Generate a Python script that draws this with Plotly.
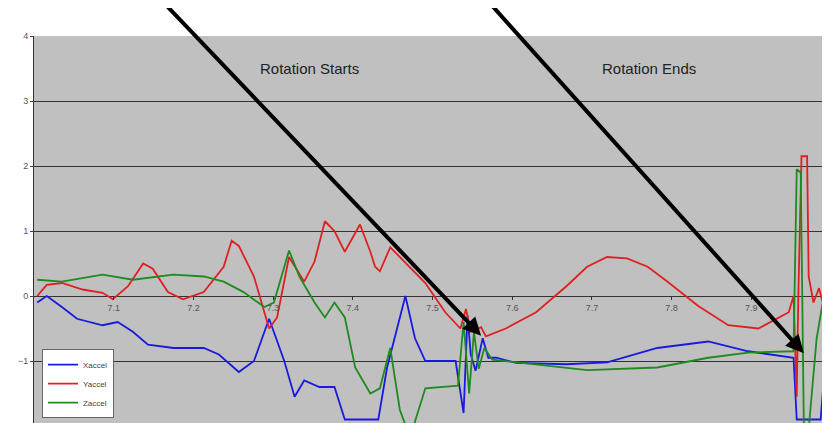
import plotly.graph_objects as go

x_t = [7.004, 7.016, 7.035, 7.054, 7.086, 7.105, 7.124, 7.143, 7.175, 7.213, 7.232, 7.257, 7.276,
       7.295, 7.314, 7.327, 7.339, 7.358, 7.377, 7.390, 7.432, 7.443, 7.466, 7.478, 7.491, 7.516,
       7.529, 7.539, 7.544, 7.548, 7.554, 7.563, 7.570, 7.580, 7.605, 7.668, 7.719, 7.782, 7.846,
       7.896, 7.953, 7.957, 7.987, 7.995, 8.0]
x_v = [-0.1, 0.0, -0.17, -0.35, -0.45, -0.4, -0.55, -0.75, -0.8, -0.8, -0.9, -1.17, -1.0,
       -0.35, -1.0, -1.55, -1.3, -1.4, -1.4, -1.9, -1.9, -1.1, 0.0, -0.65, -1.0, -1.0,
       -1.0, -1.8, -0.3, -0.9, -1.15, -0.65, -0.95, -0.95, -1.03, -1.05, -1.02, -0.8, -0.7,
       -0.85, -0.95, -1.9, -1.9, -0.65, -0.1]

y_t = [7.004, 7.016, 7.035, 7.061, 7.086, 7.099, 7.118, 7.137, 7.149, 7.168, 7.187, 7.213, 7.238,
       7.248, 7.257, 7.276, 7.295, 7.305, 7.320, 7.339, 7.352, 7.365, 7.377, 7.390, 7.409, 7.422,
       7.428, 7.434, 7.447, 7.459, 7.491, 7.516, 7.535, 7.542, 7.548, 7.561, 7.567, 7.592, 7.630,
       7.668, 7.694, 7.719, 7.744, 7.770, 7.795, 7.833, 7.871, 7.909, 7.947, 7.953, 7.957, 7.959,
       7.963, 7.970, 7.972, 7.978, 7.985, 7.991, 8.0]
y_v = [0.0, 0.17, 0.2, 0.1, 0.05, -0.05, 0.15, 0.5, 0.42, 0.06, -0.05, 0.06, 0.45,
       0.85, 0.77, 0.3, -0.5, -0.33, 0.6, 0.22, 0.53, 1.15, 1.0, 0.68, 1.1, 0.68,
       0.45, 0.38, 0.75, 0.6, 0.2, -0.25, -0.5, -0.2, -0.55, -0.48, -0.62, -0.5, -0.25,
       0.15, 0.45, 0.6, 0.58, 0.45, 0.22, -0.15, -0.45, -0.5, -0.25, 0.0, -1.55, 0.0,
       2.15, 2.15, 0.3, -0.1, 0.12, -0.16, 0.0]

z_t = [7.004, 7.035, 7.086, 7.124, 7.175, 7.213, 7.238, 7.263, 7.289, 7.301, 7.320, 7.333, 7.352,
       7.365, 7.377, 7.390, 7.403, 7.422, 7.434, 7.447, 7.459, 7.468, 7.475, 7.491, 7.532, 7.539,
       7.546, 7.552, 7.558, 7.565, 7.575, 7.590, 7.630, 7.694, 7.782, 7.846, 7.896, 7.953, 7.957,
       7.962, 7.966, 7.972, 7.982, 7.991, 8.0]
z_v = [0.25, 0.22, 0.33, 0.25, 0.33, 0.3, 0.22, 0.06, -0.17, -0.1, 0.7, 0.3, -0.1,
       -0.33, -0.1, -0.33, -1.1, -1.5, -1.42, -0.8, -1.75, -2.05, -2.05, -1.42, -1.38, -0.4,
       -1.5, -0.55, -1.12, -0.8, -0.98, -1.0, -1.05, -1.14, -1.1, -0.95, -0.87, -0.85, 1.95,
       1.9, -2.05, -2.05, -0.65, 0.0, -0.05]

series = [("Xaccel", x_t, x_v, "#1a1adf"), ("Yaccel", y_t, y_v, "#e02020"),
          ("Zaccel", z_t, z_v, "#1f8a1f")]

fig = go.Figure()
for name, t, v, c in series:
    fig.add_trace(go.Scatter(x=t, y=v, name=name, mode="lines",
                             line=dict(color=c, width=1.8)))

# big arrows and labels
arrows = [(7.156, 4.6, 7.561, -0.61), (7.565, 4.6, 7.966, -0.88)]
for x0, y0, x1, y1 in arrows:
    fig.add_annotation(x=x1, y=y1, ax=x0, ay=y0, xref="x", yref="y", axref="x", ayref="y",
                       showarrow=True, arrowhead=2, arrowsize=0.9, arrowwidth=4,
                       arrowcolor="black", text="")
for tx, label in [(7.346, "Rotation Starts"), (7.772, "Rotation Ends")]:
    fig.add_annotation(x=tx, y=3.5, text=label, showarrow=False,
                       font=dict(size=15, color="#222222", family="Liberation Sans"))

fig.update_layout(
    width=830, height=423,
    margin=dict(l=26, r=7, t=28, b=5),
    paper_bgcolor="white", plot_bgcolor="#c0c0c0",
    font=dict(family="Liberation Sans", color="#444444"),
    showlegend=True,
    legend=dict(x=0.01, y=0.02, xanchor="left", yanchor="bottom", bgcolor="white",
                bordercolor="#666666", borderwidth=1, font=dict(size=8),
                tracegroupgap=0, itemwidth=30),
    xaxis=dict(range=[7.0, 8.0], tickvals=[7.1, 7.2, 7.3, 7.4, 7.5, 7.6, 7.7, 7.8, 7.9, 7.995],
               ticktext=["7.1", "7.2", "7.3", "7.4", "7.5", "7.6", "7.7", "7.8", "7.9", "8"],
               anchor="free", position=1/3, showgrid=False, zeroline=False, automargin=False,
               showline=False, ticks="outside", ticklen=3, tickcolor="#333333",
               tickfont=dict(size=9, color="#555555")),
    yaxis=dict(range=[-2, 4], dtick=1, showgrid=True, gridcolor="#333333", gridwidth=1,
               zeroline=True, zerolinecolor="#333333", zerolinewidth=1, automargin=False,
               showline=True, linecolor="#333333", ticks="outside", ticklen=3,
               tickfont=dict(size=9, color="#555555")),
)

fig.write_html("out.html")
